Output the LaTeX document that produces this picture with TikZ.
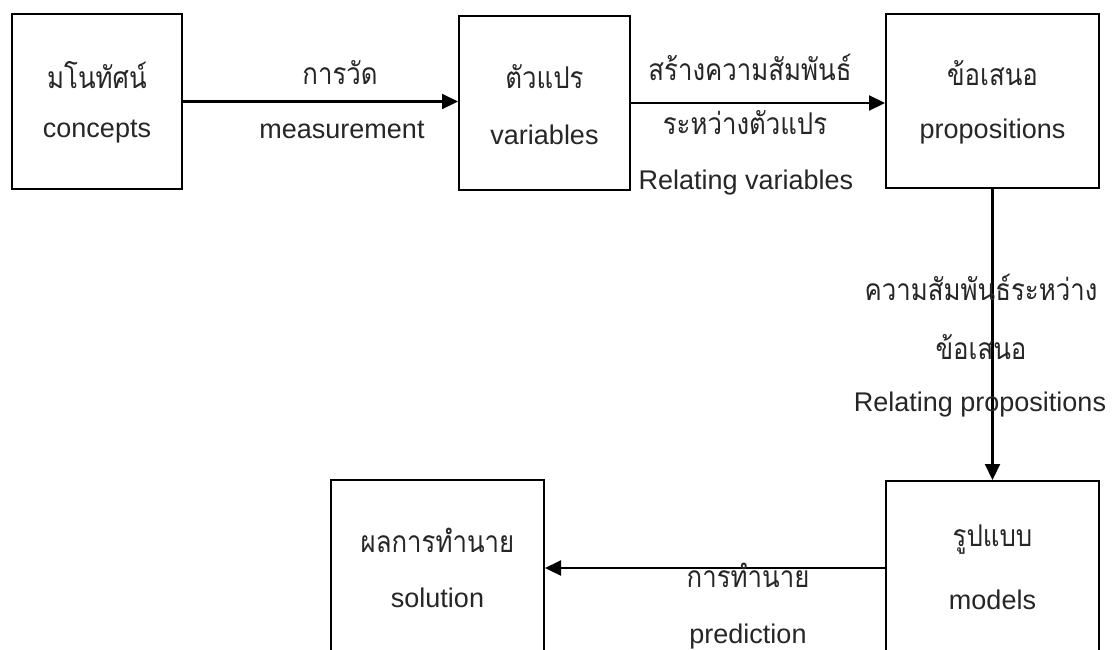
\documentclass[tikz,border=0pt]{standalone}
\usepackage{fontspec}
\setmainfont{Liberation Sans}
\newfontfamily\thaifont[Script=Thai, FakeStretch=0.86]{Loma}
\usetikzlibrary{arrows.meta}
\begin{document}
\begin{tikzpicture}[x=1pt, y=-1pt,
  box/.style={draw, line width=2pt, inner sep=0pt},
  en/.style={font=\fontsize{27}{32}\selectfont, inner sep=0pt, text=black!85},
  th/.style={font=\thaifont\fontsize{30}{36}\selectfont, inner sep=0pt, text=black!85},
  flow/.style={line width=2.2pt, -{Triangle[length=16pt,width=15pt]}}]
\useasboundingbox (0,0) rectangle (1114,649);
\clip (0,0) rectangle (1114,649);
\fill[white] (0,0) rectangle (1114,649);

% boxes
\node[box, minimum width=170pt, minimum height=175pt] (concepts) at (97,101.5) {};
\node[box, minimum width=171pt, minimum height=174pt] (variables) at (544.5,103) {};
\node[box, minimum width=213pt, minimum height=174pt] (propositions) at (992.5,101) {};
\node[box, minimum width=213pt, minimum height=174pt] (solution) at (437.5,567) {};
\node[box, minimum width=213pt, minimum height=174pt] (models) at (992.5,568) {};

% box texts
\node[th] (conceptsTh) at (97,75) {มโนทัศน์};
\node[en] (conceptsEn) at (97,132) {concepts};
\node[th] (variablesTh) at (544.5,77) {ตัวแปร};
\node[en] (variablesEn) at (544.5,135) {variables};
\node[th] (propositionsTh) at (992.5,73) {ข้อเสนอ};
\node[en] (propositionsEn) at (992.5,132) {propositions};
\node[th] (solutionTh) at (437.5,540) {ผลการทำนาย};
\node[en] (solutionEn) at (437.5,598) {solution};
\node[th] (modelsTh) at (992.5,540) {รูปแบบ};
\node[en] (modelsEn) at (992.5,600) {models};

% connectors
\draw[flow] (concepts.east) -- (concepts.east -| variables.west);
\draw[flow] (variables.east) -- (variables.east -| propositions.west);
\draw[flow] (propositions.south) -- (models.north);
\draw[flow] (models.west) -- (models.west -| solution.east);

% connector labels
\node[th] (measureTh) at (340,73) {การวัด};
\node[en] (measureEn) at (342,130) {measurement};
\node[th] (relVarTh1) at (750,67) {สร้างความสัมพันธ์};
\node[th] (relVarTh2) at (745,123) {ระหว่างตัวแปร};
\node[en] (relVarEn) at (746,183) {Relating variables};
\node[th] (relPropTh1) at (981,287) {ความสัมพันธ์ระหว่าง};
\node[th] (relPropTh2) at (981,347) {ข้อเสนอ};
\node[en] (relPropEn) at (980,405) {Relating propositions};
\node[th] (predictTh) at (748,575) {การทำนาย};
\node[en] (predictEn) at (748,637) {prediction};
\end{tikzpicture}
\end{document}
